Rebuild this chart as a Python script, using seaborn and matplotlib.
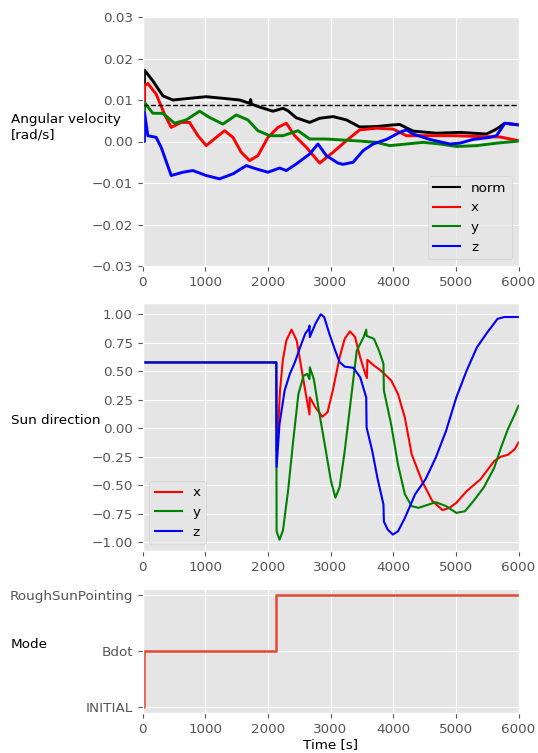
import matplotlib
matplotlib.use("Agg")
import matplotlib.pyplot as plt
import numpy as np
import pandas as pd
import seaborn as sns

# ---------------- data: angular velocity [rad/s] ----------------
norm_t = [0, 28, 32, 165, 325, 485, 751, 1017, 1283, 1550, 1709, 1725, 1740, 1869,
          2082, 2242, 2322, 2455, 2668, 2827, 3040, 3254, 3466, 3733, 3999, 4105,
          4318, 4691, 5064, 5490, 5650, 5783, 6000]
norm_v = [0, 0, 0.0172, 0.0146, 0.0110, 0.0100, 0.0104, 0.0108, 0.0104, 0.0100,
          0.0092, 0.0101, 0.0090, 0.0083, 0.0073, 0.0080, 0.0074, 0.0057, 0.0046,
          0.0056, 0.0060, 0.0052, 0.0035, 0.0036, 0.0040, 0.0041, 0.0025, 0.0020,
          0.0022, 0.0018, 0.0030, 0.0044, 0.0040]

wx_t = [0, 28, 32, 85, 218, 351, 458, 618, 751, 884, 1017, 1177, 1310, 1443, 1576,
        1709, 1842, 2002, 2162, 2295, 2428, 2615, 2827, 3040, 3254, 3466, 3733,
        3999, 4212, 4531, 4957, 5383, 5703, 6000]
wx_v = [0, 0, 0.0134, 0.0140, 0.0114, 0.0066, 0.0034, 0.0046, 0.0046, 0.0014,
        -0.0010, 0.0010, 0.0026, 0.0010, -0.0026, -0.0046, -0.0034, 0.0010, 0.0034,
        0.0044, 0.0014, -0.0014, -0.0052, -0.0026, 0.0002, 0.0028, 0.0032, 0.0030,
        0.0014, 0.0014, 0.0014, 0.0012, 0.0011, 0.0002]

wy_t = [0, 28, 32, 165, 325, 511, 697, 911, 1070, 1283, 1496, 1682, 1842, 2029, 2242,
        2481, 2668, 2934, 3147, 3466, 3733, 3946, 4212, 4478, 4744, 5011, 5330,
        5650, 6000]
wy_v = [0, 0, 0.0094, 0.0068, 0.0068, 0.0044, 0.0052, 0.0073, 0.0058, 0.0042,
        0.0064, 0.0052, 0.0026, 0.0014, 0.0014, 0.0026, 0.0006, 0.0006, 0.0004,
        0.0001, -0.0002, -0.0010, -0.0006, -0.0002, -0.0006, -0.0012, -0.0010,
        -0.0004, 0.0001]

wz_t = [0, 26, 32, 85, 218, 298, 458, 644, 804, 1017, 1230, 1443, 1656, 1816, 2002,
        2188, 2295, 2455, 2668, 2800, 2934, 3120, 3200, 3360, 3520, 3679, 3893,
        4105, 4212, 4318, 4585, 4904, 5064, 5277, 5543, 5650, 5783, 6000]
wz_v = [0, 0, 0.0070, 0.0014, 0.0010, -0.0014, -0.0082, -0.0074, -0.0070, -0.0082,
        -0.0090, -0.0078, -0.0058, -0.0066, -0.0074, -0.0064, -0.0070, -0.0054,
        -0.0030, -0.0006, -0.0034, -0.0052, -0.0055, -0.0050, -0.0022, -0.0006,
        0.0005, 0.0022, 0.0028, 0.0018, 0.0005, -0.0006, -0.0004, 0.0005, 0.0010,
        0.0014, 0.0044, 0.0040]

threshold = 0.00875
omega_ticks = [-0.03, -0.02, -0.01, 0.0, 0.01, 0.02, 0.03]

# ---------------- data: sun direction ----------------
sx_t = [0, 2135, 2140, 2165, 2194, 2240, 2296, 2378, 2460, 2542, 2625, 2665, 2670,
        2762, 2871, 2953, 3036, 3145, 3227, 3310, 3392, 3474, 3556, 3582, 3588,
        3693, 3803, 3967, 4077, 4186, 4296, 4460, 4625, 4789, 4899, 5008, 5173,
        5392, 5611, 5721, 5830, 5940, 6000]
sx_v = [0.577, 0.577, -0.20, 0.0, 0.33, 0.60, 0.77, 0.865, 0.77, 0.506, 0.24, 0.12,
        0.27, 0.18, 0.10, 0.14, 0.33, 0.62, 0.785, 0.85, 0.80, 0.62, 0.476, 0.44,
        0.60, 0.55, 0.506, 0.42, 0.30, 0.094, -0.23, -0.465, -0.64, -0.72, -0.70,
        -0.656, -0.553, -0.45, -0.29, -0.25, -0.235, -0.185, -0.126]

sy_t = [0, 2135, 2140, 2186, 2241, 2323, 2405, 2488, 2570, 2625, 2665, 2670, 2734,
        2816, 2926, 3008, 3079, 3145, 3227, 3310, 3419, 3529, 3570, 3576, 3693,
        3775, 3845, 3852, 3967, 4077, 4186, 4296, 4405, 4570, 4679, 4844, 5008,
        5145, 5282, 5447, 5611, 5721, 5830, 5940, 6000]
sy_v = [0.577, 0.577, -0.906, -0.98, -0.90, -0.55, -0.11, 0.30, 0.46, 0.476, 0.43,
        0.535, 0.43, 0.15, -0.20, -0.465, -0.61, -0.52, -0.20, 0.18, 0.68, 0.80,
        0.865, 0.81, 0.785, 0.68, 0.565, 0.33, 0.035, -0.32, -0.58, -0.685, -0.70,
        -0.67, -0.65, -0.685, -0.744, -0.73, -0.64, -0.52, -0.35, -0.17, -0.01,
        0.12, 0.197]

sz_t = [0, 2135, 2140, 2186, 2268, 2351, 2433, 2515, 2597, 2652, 2665, 2670, 2762,
        2844, 2899, 2981, 3063, 3145, 3227, 3364, 3474, 3570, 3576, 3666, 3748,
        3845, 3852, 3912, 3995, 4077, 4186, 4351, 4515, 4679, 4844, 5008, 5173,
        5337, 5501, 5666, 5775, 6000]
sz_v = [0.577, 0.577, -0.34, 0.035, 0.33, 0.476, 0.58, 0.71, 0.83, 0.87, 0.90, 0.80,
        0.92, 1.0, 0.976, 0.83, 0.70, 0.58, 0.54, 0.53, 0.447, 0.27, 0.006, -0.20,
        -0.435, -0.67, -0.82, -0.89, -0.935, -0.906, -0.79, -0.58, -0.45, -0.26,
        -0.024, 0.27, 0.506, 0.71, 0.84, 0.96, 0.976, 0.976]

sun_ticks = [-1.0, -0.75, -0.5, -0.25, 0.0, 0.25, 0.5, 0.75, 1.0]

# ---------------- data: mode ----------------
mode_names = ["INITIAL", "Bdot", "RoughSunPointing"]
mode_t = [0, 25, 2135, 6000]
mode_v = ["INITIAL", "Bdot", "RoughSunPointing", "RoughSunPointing"]

xticks = [0, 1000, 2000, 3000, 4000, 5000, 6000]

# ---------------- style ----------------
plt.style.use("ggplot")
FS = 9.7
plt.rcParams.update({
    "font.family": ["DejaVu Sans"],
    "font.size": FS,
    "axes.labelsize": FS,
    "axes.labelcolor": "black",
    "xtick.labelsize": FS,
    "ytick.labelsize": FS,
    "legend.fontsize": FS,
})

fig = plt.figure(figsize=(5.38, 7.53), dpi=100)
W = 376 / 538
L = 142.5 / 538
ax1 = fig.add_axes([L, 1 - 266 / 753, W, 249 / 753])
ax2 = fig.add_axes([L, 1 - 551 / 753, W, 248 / 753])
ax3 = fig.add_axes([L, 1 - 713 / 753, W, 124 / 753])

lw_noisy = 2.1
for t, v, c, lab in [(norm_t, norm_v, "black", "norm"),
                     (wx_t, wx_v, "red", "x"),
                     (wy_t, wy_v, "green", "y"),
                     (wz_t, wz_v, "blue", "z")]:
    sns.lineplot(x=t, y=v, color=c, label=lab, ax=ax1, lw=lw_noisy,
                 estimator=None, sort=False)
ax1.axhline(threshold, ls="--", color="black", lw=1)
ax1.set_xlim(0, 6000)
ax1.set_ylim(omega_ticks[0], omega_ticks[-1])
ax1.set_xticks(xticks)
ax1.set_yticks(omega_ticks)
ax1.set_xlabel("")
leg = ax1.legend(loc="lower right")
for h in leg.get_lines():
    h.set_linewidth(1.5)

for t, v, c, lab in [(sx_t, sx_v, "red", "x"),
                     (sy_t, sy_v, "green", "y"),
                     (sz_t, sz_v, "blue", "z")]:
    sns.lineplot(x=t, y=v, color=c, label=lab, ax=ax2, lw=1.5,
                 estimator=None, sort=False)
ax2.set_xlim(0, 6000)
ax2.set_xticks(xticks)
ax2.set_yticks(sun_ticks)
ax2.legend(loc="lower left")

mode_codes = [mode_names.index(m) for m in mode_v]
sns.lineplot(x=mode_t, y=mode_codes, color="#E24A33", ax=ax3, lw=1.8,
             drawstyle="steps-post", estimator=None, sort=False)
ax3.set_xlim(0, 6000)
ax3.set_xticks(xticks)
ax3.set_yticks(range(len(mode_names)))
ax3.set_yticklabels(mode_names)
ax3.set_ylim(-0.1, 2.1)
ax3.set_xlabel("Time [s]", labelpad=2)

for ax in (ax1, ax2):
    ax.set_yticklabels([("%.2f" % v).replace("-", "\u2212") for v in ax.get_yticks()])

for ax, lab in [(ax1, "Angular velocity\n[rad/s]"), (ax2, "Sun direction"), (ax3, "Mode")]:
    ax.set_ylabel(lab, rotation=0, ha="left", va="bottom", color="black")
    ax.yaxis.set_label_coords((11 - 142.5) / 376, 0.5)

fig.savefig("out.png", dpi=100)
